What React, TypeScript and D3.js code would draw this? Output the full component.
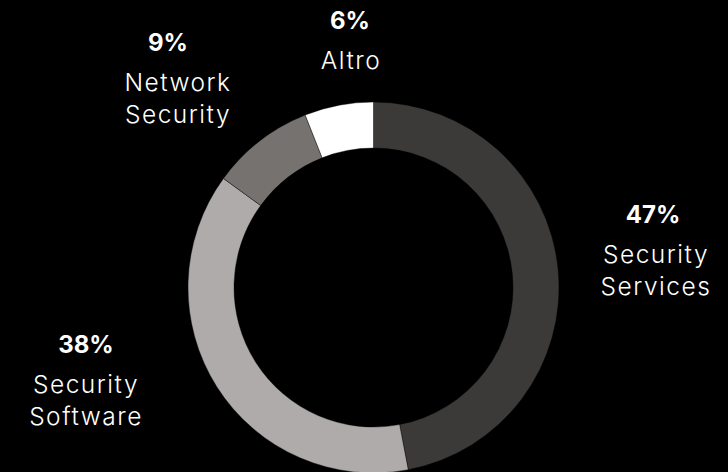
import React, {useEffect, useRef} from 'react';
import * as d3 from 'd3';

const categories = ['Security Services', 'Security Software', 'Network Security', 'Altro'];
const shares = [47, 38, 9, 6];
const sliceColors = ['#3b3a39', '#aeabaa', '#76726f', '#ffffff'];

const width = 728;
const height = 472;

// hand-placed label anchors (centre of the text block), same order as categories
const labelAnchors = [
    {x: 656, y: 223},
    {x: 86, y: 353},
    {x: 178, y: 51},
    {x: 351, y: 29},
];
const pctNudge = [-3, 0, -10, -1];

const App: React.FC = () => {
    const svgRef = useRef<SVGSVGElement>(null);

    useEffect(() => {
        const svg = d3.select(svgRef.current);
        svg.selectAll('*').remove();

        const cx = 373.5;
        const cy = 287.5;
        const outer = 185.5;
        const inner = 139.5;

        const pie = d3.pie<number>().sort(null).value(d => d);
        const arc = d3.arc<d3.PieArcDatum<number>>().innerRadius(inner).outerRadius(outer);

        const g = svg.append('g').attr('transform', `translate(${cx},${cy})`);

        g.selectAll('path')
            .data(pie(shares))
            .enter().append('path')
            .attr('d', arc)
            .attr('fill', (_, i) => sliceColors[i])
            .attr('stroke', '#000')
            .attr('stroke-width', 0.4);

        const labels = svg.append('g')
            .style('font-family', 'Inter, "Noto Sans", sans-serif')
            .attr('fill', '#fff')
            .attr('text-anchor', 'middle');

        categories.forEach((name, i) => {
            const a = labelAnchors[i];
            labels.append('text')
                .attr('x', a.x + pctNudge[i])
                .attr('y', a.y)
                .style('font-size', '24px')
                .style('font-weight', 700)
                .text(`${shares[i]}%`);

            const words = name.split(' ');
            words.forEach((w, j) => {
                labels.append('text')
                    .attr('x', a.x)
                    .attr('y', a.y + 40 + j * 32)
                    .style('font-size', '24.5px')
                    .style('font-weight', 300)
                    .style('letter-spacing', '1.5px')
                    .text(w);
            });
        });
    }, []);

    return (
        <div style={{position: 'fixed', left: 0, top: 0, width, height, background: '#000'}}>
            <svg ref={svgRef} width={width} height={height} style={{display: 'block'}}/>
        </div>
    );
};

export default App;
